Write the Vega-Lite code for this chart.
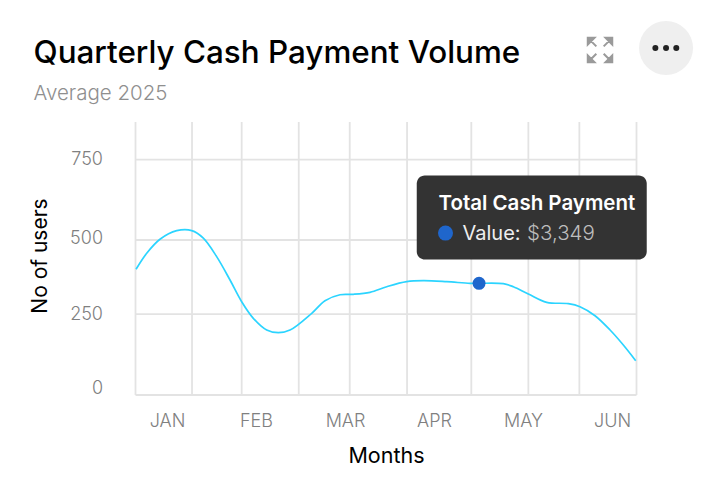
{
"$schema":"https://vega.github.io/schema/vega-lite/v6.json",
"width":501,"height":273,
"autosize":"none",
"padding":{"left":135.5,"top":122,"right":74.5,"bottom":88},
"background":"#ffffff",
"title":{"text":"Quarterly Cash Payment Volume","subtitle":"Average 2025","anchor":"start","frame":"group","dx":-102,"offset":-83,"font":"Inter","fontSize":31.4,"fontWeight":500,"color":"#000000","subtitleFont":"Inter","subtitleFontSize":20.5,"subtitleColor":"#8f8f8f","subtitleFontWeight":300,"subtitlePadding":14},
"config":{"view":{"stroke":null}},
"encoding":{},
"layer":[
{"data":{"values":[{"m":-0.354},{"m":0.281},{"m":0.839},{"m":1.48},{"m":2.053},{"m":2.697},{"m":3.419},{"m":4.06},{"m":4.633},{"m":5.275}]},
"mark":{"type":"rule","color":"#e3e3e3","strokeWidth":1.8,"clip":false},
"encoding":{"x":{"field":"m","type":"quantitative","scale":{"domain":[-0.354,5.275],"nice":false,"zero":false},
"axis":{"values":[0,1,2,3,4,5],"labelExpr":"['JAN','FEB','MAR','APR','MAY','JUN'][datum.value]","title":"Months","grid":false,"domain":false,"ticks":false,"labelFont":"Inter","labelFontSize":18,"labelFontWeight":300,"labelColor":"#808080","labelPadding":17,"labelFlush":false,"titleFont":"Inter","titleFontSize":21.5,"titleFontWeight":400,"titleColor":"#000000","titlePadding":15}}}},
{"data":{"values":[{"v":0},{"v":258},{"v":494},{"v":750}]},
"mark":{"type":"rule","color":"#e3e3e3","strokeWidth":1.8,"clip":false},
"encoding":{"y":{"field":"v","type":"quantitative","scale":{"domain":[0,870],"nice":false,"zero":false},
"axis":{"values":[0,250,500,750],"title":"No of users","grid":false,"domain":false,"ticks":false,"labelFont":"Inter","labelFontSize":18,"labelFontWeight":300,"labelColor":"#808080","labelPadding":33,"labelOffset":{"condition":[{"test":"datum.value===0","value":-7},{"test":"datum.value===250","value":-2}],"value":0},"titleFont":"Inter","titleFontSize":21,"titleFontWeight":400,"titleColor":"#000000","titlePadding":19,"titleY":133.5}}}},
{"data":{"values":[{"m":-0.348,"v":400.6},{"m":-0.228,"v":451.6},{"m":-0.079,"v":496.2},{"m":0.109,"v":523.6},{"m":0.278,"v":524},{"m":0.408,"v":500},{"m":0.558,"v":441},{"m":0.708,"v":366.5},{"m":0.839,"v":297.3},{"m":0.97,"v":244.4},{"m":1.12,"v":207.1},{"m":1.251,"v":198.5},{"m":1.382,"v":207},{"m":1.626,"v":260.4},{"m":1.775,"v":300.5},{"m":1.944,"v":319.6},{"m":2.093,"v":320.9},{"m":2.281,"v":327.3},{"m":2.469,"v":345.1},{"m":2.693,"v":361.1},{"m":2.88,"v":364.2},{"m":3.143,"v":361.1},{"m":3.404,"v":356},{"m":3.506,"v":356},{"m":3.779,"v":354.7},{"m":3.891,"v":345.1},{"m":4.06,"v":321.9},{"m":4.266,"v":295.4},{"m":4.509,"v":291},{"m":4.64,"v":281.4},{"m":4.809,"v":252.7},{"m":4.978,"v":207.1},{"m":5.127,"v":159.3},{"m":5.266,"v":109.3}]},
"mark":{"type":"line","color":"#2bd4ff","strokeWidth":1.7,"interpolate":"catmull-rom","clip":false},
"encoding":{"x":{"field":"m","type":"quantitative"},"y":{"field":"v","type":"quantitative"}}},
{"data":{"values":[{"m":3.506,"v":356}]},
"mark":{"type":"point","filled":true,"color":"#1f66cc","opacity":1,"size":169,"clip":false},
"encoding":{"x":{"field":"m","type":"quantitative"},"y":{"field":"v","type":"quantitative"}}},
{"data":{"values":[{"m1":2.806,"m2":5.39,"v1":699.5,"v2":431.8}]},
"mark":{"type":"rect","color":"#333333","cornerRadius":8,"clip":false},
"encoding":{"x":{"field":"m1","type":"quantitative"},"x2":{"field":"m2"},"y":{"field":"v1","type":"quantitative"},"y2":{"field":"v2"}}},
{"data":{"values":[{"m":3.129,"v":516}]},
"mark":{"type":"point","filled":true,"color":"#1f66cc","opacity":1,"size":225,"clip":false},
"encoding":{"x":{"field":"m","type":"quantitative"},"y":{"field":"v","type":"quantitative"}}},
{"data":{"values":[{"m":3.05,"v":610,"t":"Total Cash Payment"}]},
"mark":{"type":"text","font":"Inter","fontSize":20.5,"fontWeight":600,"color":"#ffffff","align":"left","baseline":"middle","clip":false},
"encoding":{"x":{"field":"m","type":"quantitative"},"y":{"field":"v","type":"quantitative"},"text":{"field":"t"}}},
{"data":{"values":[{"m":3.32,"v":512,"t":"Value:"}]},
"mark":{"type":"text","font":"Inter","fontSize":20,"fontWeight":400,"color":"#eeeeee","align":"left","baseline":"middle","clip":false},
"encoding":{"x":{"field":"m","type":"quantitative"},"y":{"field":"v","type":"quantitative"},"text":{"field":"t"}}},
{"data":{"values":[{"m":4.045,"v":512,"t":"$3,349"}]},
"mark":{"type":"text","font":"Inter","fontSize":20.5,"fontWeight":300,"color":"#bdbdbd","align":"left","baseline":"middle","clip":false},
"encoding":{"x":{"field":"m","type":"quantitative"},"y":{"field":"v","type":"quantitative"},"text":{"field":"t"}}},
{"data":{"values":[{"m":5.607,"v":1105.8}]},
"mark":{"type":"point","filled":true,"color":"#efefef","opacity":1,"size":2916,"clip":false},
"encoding":{"x":{"field":"m","type":"quantitative"},"y":{"field":"v","type":"quantitative"}}},
{"data":{"values":[{"m":5.487,"v":1105.8},{"m":5.607,"v":1105.8},{"m":5.722,"v":1105.8}]},
"mark":{"type":"point","filled":true,"color":"#222222","opacity":1,"size":36,"clip":false},
"encoding":{"x":{"field":"m","type":"quantitative"},"y":{"field":"v","type":"quantitative"}}},
{"data":{"values":[{"m":4.865,"v":1099.4}]},
"mark":{"type":"point","shape":"M-0.45,-1L-1,-1L-1,-0.45ZM-0.85,-0.85L-0.3,-0.3M0.45,-1L1,-1L1,-0.45ZM0.85,-0.85L0.3,-0.3M-0.45,1L-1,1L-1,0.45ZM-0.85,0.85L-0.3,0.3M0.45,1L1,1L1,0.45ZM0.85,0.85L0.3,0.3","filled":true,"fill":"#9a9a9a","stroke":"#9a9a9a","strokeWidth":2,"opacity":1,"size":600,"clip":false},
"encoding":{"x":{"field":"m","type":"quantitative"},"y":{"field":"v","type":"quantitative"}}}
]
}
